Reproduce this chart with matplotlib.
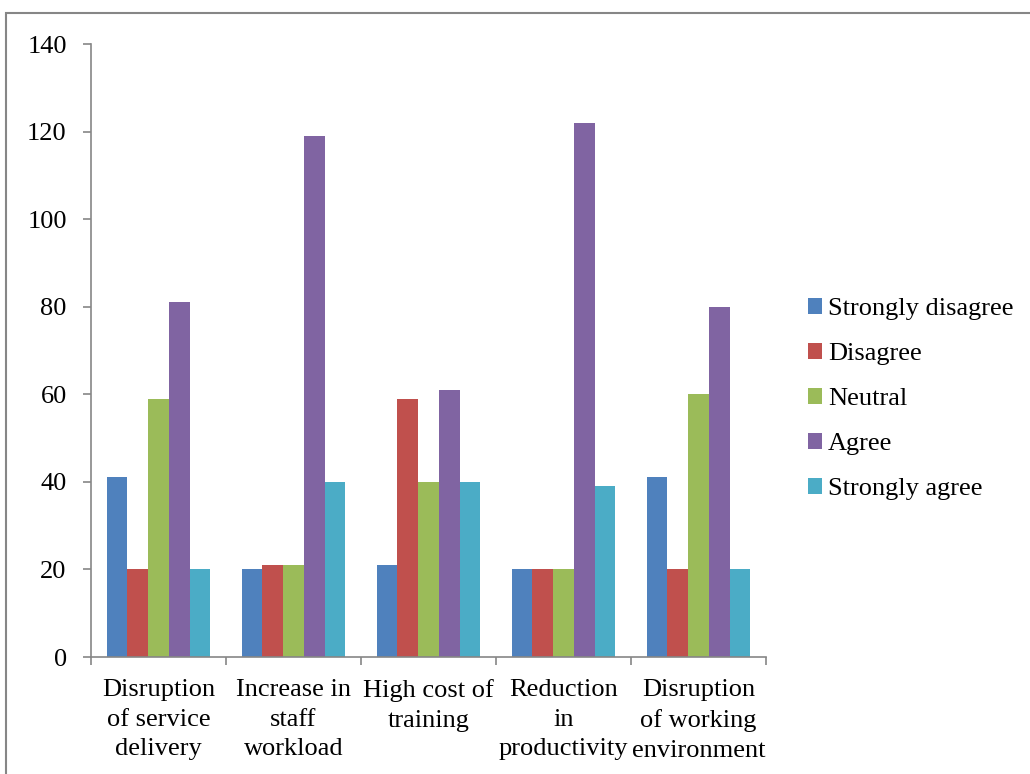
import matplotlib
matplotlib.use("Agg")
import matplotlib.pyplot as plt
import numpy as np
from matplotlib.patches import Rectangle

plt.rcParams['font.family'] = ['Liberation Serif', 'DejaVu Serif']

# Data
categories = ['Disruption\nof service\ndelivery', 'Increase in\nstaff\nworkload',
              'High cost of\ntraining', 'Reduction\nin\nproductivity',
              'Disruption\nof working\nenvironment']
series_names = ['Strongly disagree', 'Disagree', 'Neutral', 'Agree', 'Strongly agree']
strongly_disagree = [41, 20, 21, 20, 41]
disagree = [20, 21, 59, 20, 20]
neutral = [59, 21, 40, 20, 60]
agree = [81, 119, 61, 122, 80]
strongly_agree = [20, 40, 40, 39, 20]
colors = ['#4F81BD', '#C0504D', '#9BBB59', '#8064A2', '#4BACC6']

W, H = 1030, 774
fig = plt.figure(figsize=(W / 100, H / 100), dpi=100)
ax = fig.add_axes([91 / W, (H - 657) / H, (766 - 91) / W, (657 - 44) / H])

series = [strongly_disagree, disagree, neutral, agree, strongly_agree]
n = len(series)
x = np.arange(len(categories))
bar_w = 1 / 6.5  # 150% gap width
for i, (vals, name, c) in enumerate(zip(series, series_names, colors)):
    ax.bar(x + (i - (n - 1) / 2) * bar_w, vals, width=bar_w, color=c,
           label=name, edgecolor='none', zorder=2)

ax.set_xlim(-0.5, len(categories) - 0.5)
ax.set_ylim(0, 140)
ax.set_yticks(range(0, 141, 20))

# category labels between the boundary ticks
ax.set_xticks(np.arange(-0.5, len(categories), 1))
ax.set_xticklabels([])
ax.set_xticks(x, minor=True)
ax.set_xticklabels(categories, minor=True, fontsize=19, linespacing=1.44, va='top')
ax.tick_params(axis='x', which='minor', length=0, pad=16)
ax.tick_params(axis='x', which='major', length=6, width=1.2, color='#868686', direction='out')
ax.tick_params(axis='y', length=6, width=1.2, color='#868686', labelsize=19, pad=11.5)

for s in ['top', 'right']:
    ax.spines[s].set_visible(False)
for s in ['left', 'bottom']:
    ax.spines[s].set_color('#868686')
    ax.spines[s].set_linewidth(1.2)

fig.legend(loc='upper left', bbox_to_anchor=(808 / W, 1 - 298 / H), frameon=False,
           fontsize=19, handlelength=0.53, handleheight=0.53, handletextpad=0.23,
           labelspacing=0.87, borderaxespad=0, borderpad=0)

# outer chart border
fig.patches.append(Rectangle((6 / W, -0.1), 1.2, 1 - 13 / H + 0.1,
                             transform=fig.transFigure, fill=False,
                             edgecolor='#868686', linewidth=1.5))

fig.savefig('out.png', dpi=100)
